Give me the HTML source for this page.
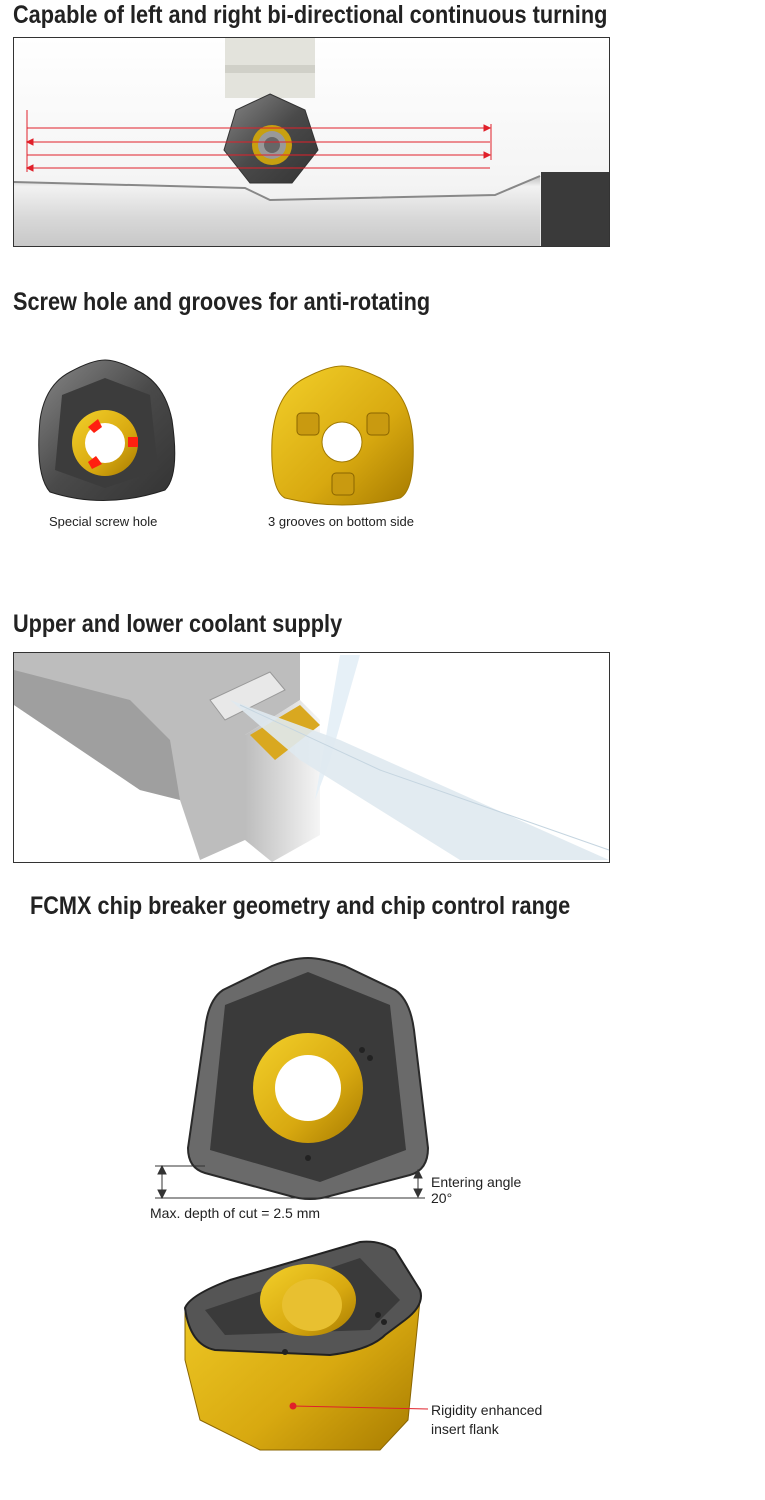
<!DOCTYPE html>
<html><head><meta charset="utf-8"><style>
body{margin:0;background:#fff;width:765px;height:1500px;position:relative;overflow:hidden;font-family:"Liberation Sans",sans-serif}
.t{position:absolute;font-family:"Liberation Sans",sans-serif;font-weight:bold;font-size:25px;color:#222;white-space:nowrap;transform:scaleX(0.868);transform-origin:0 0}
.c{position:absolute;font-size:13px;color:#222;white-space:nowrap}
svg{position:absolute;left:0;top:0}
</style></head><body>
<div class="t" style="left:13px;top:1px">Capable of left and right bi-directional continuous turning</div>
<div class="t" style="left:13px;top:288px">Screw hole and grooves for anti-rotating</div>
<div class="t" style="left:13px;top:610px">Upper and lower coolant supply</div>
<div class="t" style="left:30px;top:892px">FCMX chip breaker geometry and chip control range</div>
<div class="c" style="left:49px;top:514px">Special screw hole</div>
<div class="c" style="left:268px;top:514px">3 grooves on bottom side</div>
<div class="c" style="left:150px;top:1205px;font-size:14px">Max. depth of cut = 2.5 mm</div>
<div class="c" style="left:431px;top:1174px;font-size:14px;line-height:16px">Entering angle<br>20°</div>
<div class="c" style="left:431px;top:1401px;font-size:14px;line-height:19px">Rigidity enhanced<br>insert flank</div>
<svg width="765" height="1500">
<defs>
<linearGradient id="bg1" x1="0" y1="0" x2="0" y2="1"><stop offset="0" stop-color="#fff"/><stop offset="0.7" stop-color="#f4f4f4"/><stop offset="1" stop-color="#e6e6e6"/></linearGradient>
<linearGradient id="wp" x1="0" y1="0" x2="0" y2="1"><stop offset="0" stop-color="#bbb"/><stop offset="0.15" stop-color="#f2f2f2"/><stop offset="0.6" stop-color="#d8d8d8"/><stop offset="1" stop-color="#c8c8c8"/></linearGradient>
<linearGradient id="ins" x1="0" y1="0" x2="1" y2="1"><stop offset="0" stop-color="#888"/><stop offset="0.5" stop-color="#4a4a4a"/><stop offset="1" stop-color="#333"/></linearGradient>
<linearGradient id="gold" x1="0" y1="0" x2="1" y2="1"><stop offset="0" stop-color="#f3d02a"/><stop offset="0.6" stop-color="#d8a910"/><stop offset="1" stop-color="#a67a00"/></linearGradient>
<linearGradient id="cb" x1="0" y1="0" x2="1" y2="0"><stop offset="0" stop-color="#bdbdbd"/><stop offset="1" stop-color="#f5f5f5"/></linearGradient>
</defs>
<rect x="13.5" y="37.5" width="596" height="209" fill="url(#bg1)" stroke="#333"/>
<rect x="225" y="38" width="90" height="60" fill="#e3e3dc"/>
<rect x="225" y="65" width="90" height="8" fill="#d0d0c8"/>
<path d="M14 182 L245 188 L270 200 L495 195 L540 176 L540 246 L14 246Z" fill="url(#wp)"/>
<path d="M14 182 L245 188 L270 200 L495 195 L540 176" fill="none" stroke="#888" stroke-width="2"/>
<rect x="541" y="172" width="68" height="74" fill="#3a3a3a"/>
<path d="M270 94 L305 110 L318 150 L292 183 L250 183 L224 150 L236 110Z" fill="url(#ins)" stroke="#333"/>
<circle cx="272" cy="145" r="20" fill="#c8a010"/><circle cx="272" cy="145" r="14" fill="#999"/><circle cx="272" cy="145" r="8" fill="#666"/>
<g stroke="#e0202a" stroke-width="1" fill="#e0202a">
<line x1="27" y1="110" x2="27" y2="172"/>
<line x1="27" y1="128" x2="490" y2="128"/><line x1="27" y1="142" x2="490" y2="142"/><line x1="27" y1="155" x2="490" y2="155"/><line x1="27" y1="168" x2="490" y2="168"/>
<line x1="491" y1="124" x2="491" y2="160"/>
<path d="M490 128 l-6 -3 v6z M27 142 l6 -3 v6z M490 155 l-6 -3 v6z M27 168 l6 -3 v6z"/>
</g>
<path d="M105 360 Q118 360 140 372 Q165 385 172 420 Q180 475 165 490 Q105 510 50 492 Q35 475 40 420 Q45 385 70 372 Q92 360 105 360Z" fill="url(#ins)" stroke="#222"/>
<path d="M105 378 L150 395 L158 470 L105 488 L55 470 L62 395Z" fill="#3c3c3c"/>
<circle cx="105" cy="443" r="33" fill="url(#gold)"/><circle cx="105" cy="443" r="20" fill="#fff"/>
<g fill="#ff2010"><path d="M88 427 l10 -8 4 8 -8 6z"/><path d="M128 437 l10 0 0 10 -10 0z"/><path d="M88 462 l8 -6 6 8 -10 5z"/></g>
<path d="M342 366 Q355 366 380 378 Q410 393 413 440 Q415 490 400 498 Q342 512 285 498 Q270 490 272 440 Q275 393 305 378 Q328 366 342 366Z" fill="url(#gold)" stroke="#a07800"/>
<circle cx="342" cy="442" r="20" fill="#fff" stroke="#a07800"/>
<g fill="#c99a10" stroke="#8a6500"><rect x="297" y="413" width="22" height="22" rx="4"/><rect x="367" y="413" width="22" height="22" rx="4"/><rect x="332" y="473" width="22" height="22" rx="4"/></g>
<rect x="13.5" y="652.5" width="596" height="210" fill="#fff" stroke="#333"/>
<path d="M14 653 L300 653 L300 700 L245 735 L245 840 L200 860 L180 800 L140 790 L14 705Z" fill="#bdbdbd"/>
<path d="M14 705 L140 790 L180 800 L170 740 L130 700 L14 670Z" fill="#9f9f9f"/>
<path d="M245 735 L300 700 L320 720 L320 835 L272 862 L245 840Z" fill="url(#cb)"/>
<path d="M210 700 L270 672 L285 690 L225 720Z" fill="#e8e8e8" stroke="#999"/>
<path d="M250 735 L300 705 L320 725 L275 760Z" fill="#d9a820"/>
<path d="M340 655 L360 655 L330 760 L315 800Z" fill="#e6f0f7"/>
<path d="M230 700 L340 740 L609 860 L460 860 L300 760Z" fill="#dfe9f0" opacity="0.9"/>
<path d="M240 705 L380 770 L609 850" stroke="#c5d5e0" fill="none"/>
<path d="M308 958 Q322 958 345 966 L395 990 Q410 1000 414 1030 L428 1148 Q428 1170 410 1175 L330 1196 Q310 1202 290 1196 L205 1173 Q188 1168 188 1148 L205 1030 Q208 1000 223 990 L272 966 Q292 958 308 958Z" fill="#6a6a6a" stroke="#2a2a2a" stroke-width="2"/>
<path d="M308 972 L390 1005 L406 1150 L320 1182 L210 1150 L225 1005Z" fill="#3a3a3a"/>
<circle cx="308" cy="1088" r="55" fill="url(#gold)"/><circle cx="308" cy="1088" r="33" fill="#fff"/>
<g fill="#222"><circle cx="362" cy="1050" r="3"/><circle cx="370" cy="1058" r="3"/><circle cx="308" cy="1158" r="3"/></g>
<g stroke="#333" fill="#333" stroke-width="1">
<line x1="155" y1="1166" x2="205" y2="1166"/><line x1="155" y1="1198" x2="425" y2="1198"/>
<line x1="162" y1="1168" x2="162" y2="1196"/><path d="M162 1166 l-4 8 h8z M162 1198 l-4 -8 h8z"/>
<line x1="418" y1="1172" x2="418" y2="1196"/><path d="M418 1170 l-4 8 h8z M418 1197 l-4 -8 h8z"/>
</g>
<path d="M185 1308 L380 1248 L420 1300 L408 1420 L380 1450 L260 1450 L200 1420 L185 1360Z" fill="url(#gold)" stroke="#8a6500"/>
<path d="M185 1308 Q190 1295 230 1280 L360 1242 Q380 1240 395 1250 L420 1290 Q425 1305 405 1320 L385 1335 Q370 1350 330 1355 L215 1350 Q190 1345 185 1308Z" fill="#555" stroke="#222" stroke-width="2"/>
<path d="M205 1310 L360 1258 L400 1300 L370 1330 L225 1335Z" fill="#3a3a3a"/>
<ellipse cx="308" cy="1300" rx="48" ry="36" fill="url(#gold)"/><ellipse cx="312" cy="1305" rx="30" ry="26" fill="#e8c030"/>
<g fill="#222"><circle cx="378" cy="1315" r="3"/><circle cx="384" cy="1322" r="3"/><circle cx="285" cy="1352" r="3"/></g>
<line x1="293" y1="1406" x2="428" y2="1409" stroke="#e0202a"/><circle cx="293" cy="1406" r="3.5" fill="#e0202a"/>
</svg>
</body></html>
